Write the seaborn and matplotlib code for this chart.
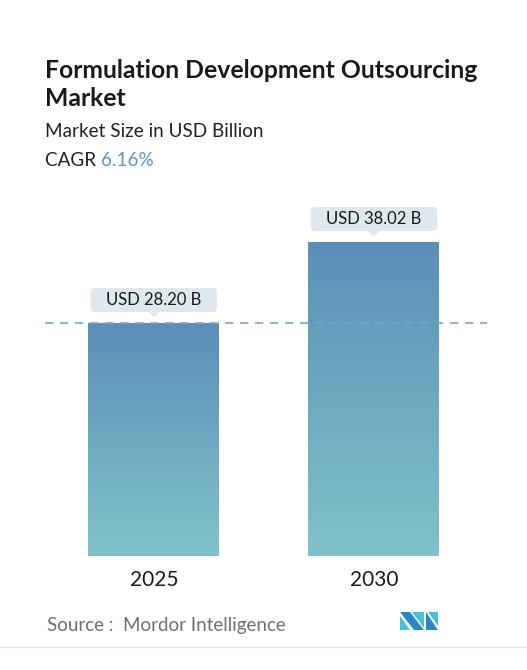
import numpy as np
import pandas as pd
import matplotlib
matplotlib.use('Agg')
import matplotlib.pyplot as plt
from matplotlib.colors import LinearSegmentedColormap
from matplotlib.patches import FancyBboxPatch, Polygon
from matplotlib.lines import Line2D
import seaborn as sns

# data
years = ['2025', '2030']
market_size = [28.20, 38.02]
value_labels = ['USD 28.20 B', 'USD 38.02 B']
cagr = '6.16%'

title = 'Formulation Development Outsourcing\nMarket'
subtitle = 'Market Size in USD Billion'
source = 'Source :  Mordor Intelligence'

df = pd.DataFrame({'year': years, 'size': market_size})

sns.set_style('white')
plt.rcParams['font.family'] = ['Lato', 'DejaVu Sans']

W, H = 527, 670
fig = plt.figure(figsize=(W / 100, H / 100), dpi=100)
fig.patch.set_facecolor('white')

def fx(px):
    return px / W

def fy(px):
    return 1 - px / H

# axes placed to match the reference (pixels: x 45..487, y 200..556)
ax = fig.add_axes([fx(45), fy(556), fx(487 - 45), (556 - 200) / H])
sns.barplot(data=df, x='year', y='size', width=0.595, color='#5b8fb8',
            ax=ax, zorder=2)
ax.set_xlim(-0.495, 1.514)
ax.set_ylim(0, 43.1)
px_per_unit = (556 - 200) / 43.1

# gradient fill for bars
cmap = LinearSegmentedColormap.from_list('bar', ['#80c3c9', '#5b8fb8'])
grad = np.linspace(0, 1, 256).reshape(-1, 1)
for p in ax.patches:
    x0, w, h = p.get_x(), p.get_width(), p.get_height()
    im = ax.imshow(grad, cmap=cmap, origin='lower', aspect='auto',
                   extent=[x0, x0 + w, 0, h], zorder=2)
    im.set_clip_path(p)
    p.set_facecolor('none')
    p.set_edgecolor('none')
ax.set_xlim(-0.495, 1.514)
ax.set_ylim(0, 43.1)

# dashed reference line at first value
ax.axhline(market_size[0], color='#7aa5c4', lw=1.2, ls=(0, (5, 4)), zorder=3)

# value callouts
box_h = 24 / px_per_unit
gap = 11 / px_per_unit
for p, lab in zip(ax.patches, value_labels):
    x0, w, h = p.get_x(), p.get_width(), p.get_height()
    y0 = h + gap
    box = FancyBboxPatch((x0 + 0.01, y0), w - 0.02, box_h,
                         boxstyle='round,pad=0,rounding_size=0.02',
                         mutation_aspect=1 / 0.02 * 4 / px_per_unit,
                         fc='#dfe8ec', ec='none', zorder=4)
    ax.add_patch(box)
    cx = x0 + w / 2
    tri = Polygon([[cx - 0.025, y0], [cx + 0.025, y0],
                   [cx, y0 - 5 / px_per_unit]],
                  closed=True, fc='#dfe8ec', ec='none', zorder=4)
    ax.add_patch(tri)
    ax.text(cx, y0 + box_h / 2, lab, ha='center', va='center',
            fontsize=12, color='#1a1a1a', zorder=5)

ax.set_xlabel('')
ax.set_ylabel('')
ax.set_yticks([])
ax.tick_params(axis='x', length=0, labelsize=15, colors='#1a1a1a', pad=10)
sns.despine(ax=ax, left=True, bottom=True)
ax.set_facecolor('none')

# titles
fig.text(fx(45), fy(78), title.split('\n')[0], fontsize=17.8,
         fontweight='bold', color='#1a1a1a', va='baseline')
fig.text(fx(45), fy(106), title.split('\n')[1], fontsize=17.8,
         fontweight='bold', color='#1a1a1a', va='baseline')
fig.text(fx(45), fy(137), subtitle, fontsize=13.6, color='#222222',
         va='baseline')
t = fig.text(fx(45), fy(166), 'CAGR ', fontsize=13.6, color='#222222',
             va='baseline')
fig.canvas.draw()
bb = t.get_window_extent()
fig.text(bb.x1 / W, fy(166), cagr, fontsize=13.6, color='#5b96c6',
         va='baseline')

# source and logo
fig.text(fx(47), fy(631), source, fontsize=13.5, color='#707070', va='baseline')
logo = [
    ([[400, 612], [410, 612], [424, 630], [414, 630]], '#2a86c0'),
    ([[400, 616], [400, 630], [410, 630]], '#45c3d2'),
    ([[412, 612], [424, 612], [424, 628]], '#45c3d2'),
    ([[426, 612], [426, 630], [438, 630]], '#2a86c0'),
    ([[428, 612], [438, 612], [438, 626]], '#45c3d2'),
]
for pts, c in logo:
    fig.add_artist(Polygon([[fx(a), fy(b)] for a, b in pts], closed=True,
                           fc=c, ec='none', transform=fig.transFigure))
fig.add_artist(Line2D([0, 1], [fy(647), fy(647)], color='#e6e6e6', lw=1,
                      transform=fig.transFigure))

fig.savefig('out.png', dpi=100, facecolor='white')
